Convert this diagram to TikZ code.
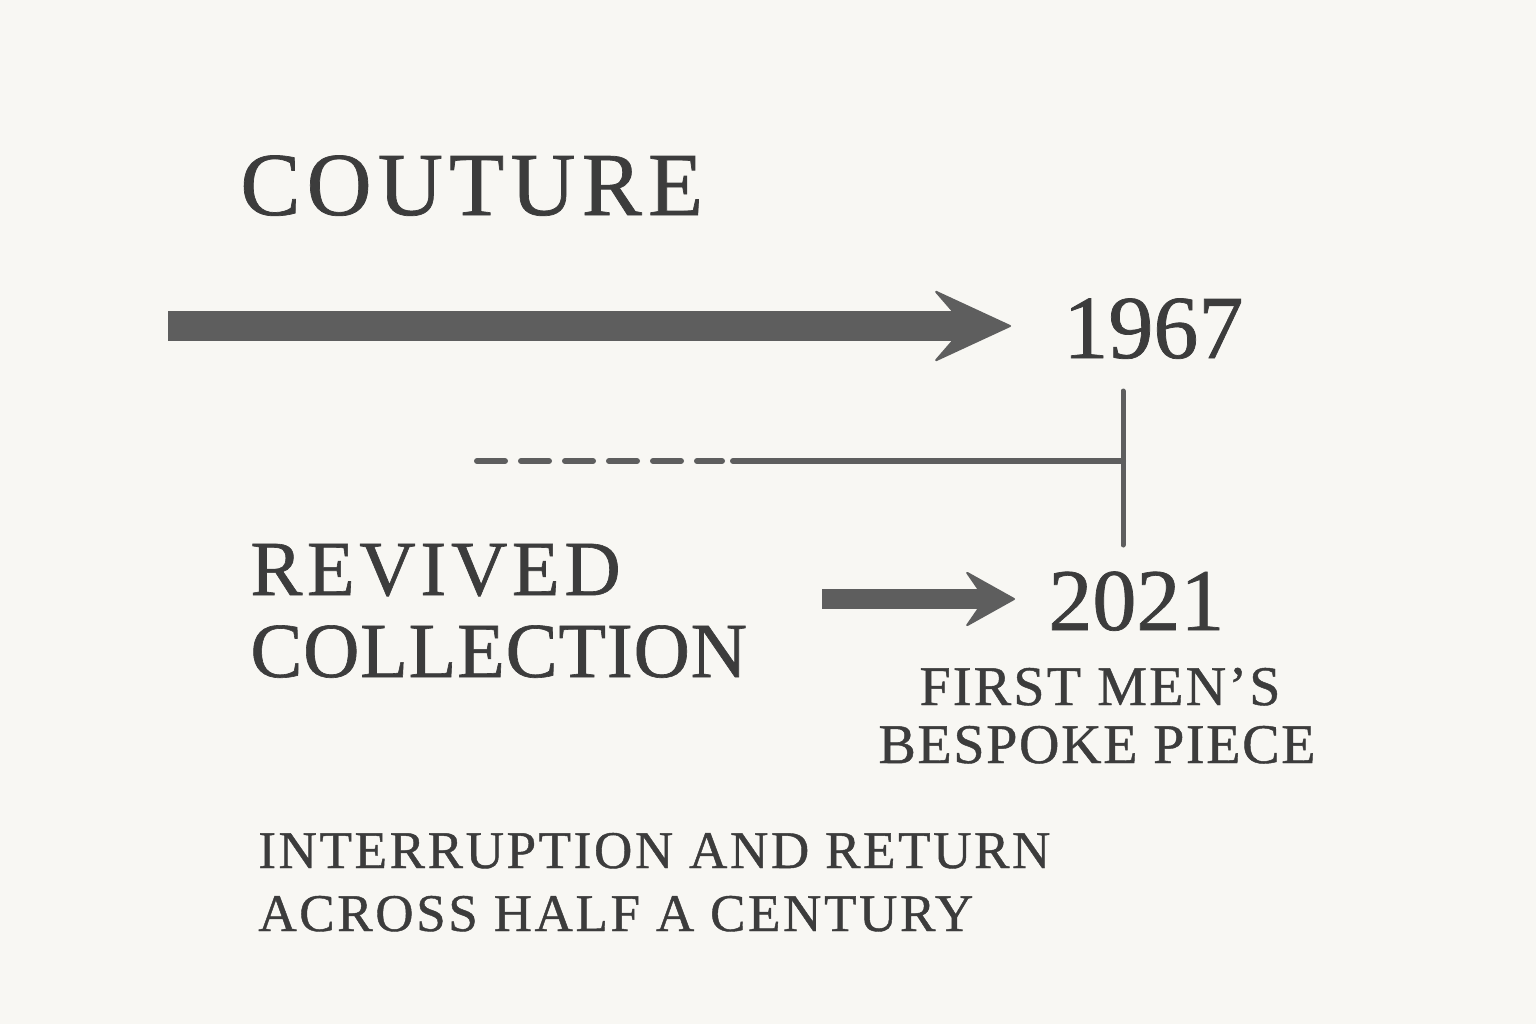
\documentclass[tikz,border=0pt]{standalone}
\usepackage{fontspec}
\setmainfont{Liberation Serif}[FakeBold=0.8]
\usetikzlibrary{arrows.meta}
\definecolor{paper}{HTML}{F8F7F3}
\definecolor{ink}{HTML}{3C3C3C}
\definecolor{lead}{HTML}{5E5E5E}
\newcommand{\ls}[1]{\addfontfeature{LetterSpace=#1}}
\tikzset{
  lbl/.style={inner sep=0pt, text=ink},
  bigarrow/.style={draw=lead, line width=15pt, line cap=butt,
    -{Stealth[length=40pt, width=37pt, inset=16pt, line width=1pt, round]}},
  smallarrow/.style={draw=lead, line width=10pt, line cap=butt,
    -{Stealth[length=26pt, width=29pt, inset=10pt, line width=1pt, round]}},
  tline/.style={draw=lead, line width=3pt, line cap=round},
  vline/.style={draw=lead, line width=2.5pt, line cap=round},
  dashline/.style={tline, dash pattern=on 14pt off 8pt},
}
\begin{document}
\begin{tikzpicture}[x=0.5pt, y=-0.5pt]
\fill[paper] (0,0) rectangle (1536,1024);
\useasboundingbox (0,0) rectangle (1536,1024);

\node[lbl, anchor=base west, font=\fontsize{45pt}{50pt}\selectfont\ls{7}] (couture) at (240,215) {COUTURE};

\coordinate (a1s) at (168,326);
\coordinate (a1e) at (1011,326);
\draw[bigarrow] (a1s) -- (a1e);
\node[lbl, anchor=base west, font=\fontsize{45pt}{50pt}\selectfont] (y1967) at (1063,358) {1967};

\coordinate (v1) at (1123,391);
\coordinate (v2) at (1123,545);
\draw[vline] (v1) -- (v2);
\coordinate (d0) at (477,461);
\coordinate (d1) at (722,461);
\coordinate (d2) at (733,461);
\coordinate (tee) at (1123,461);
\draw[dashline] (d0) -- (d1);
\draw[tline] (d2) -- (tee);

\node[lbl, anchor=base west, font=\fontsize{39pt}{44pt}\selectfont\ls{6}] (revived) at (250,595) {REVIVED};
\node[lbl, anchor=base west, font=\fontsize{39pt}{44pt}\selectfont\ls{1}] (collection) at (250,677) {COLLECTION};

\coordinate (a2s) at (822,599);
\coordinate (a2e) at (1015,599);
\draw[smallarrow] (a2s) -- (a2e);
\node[lbl, anchor=base west, font=\fontsize{44pt}{50pt}\selectfont] (y2021) at (1048,630) {2021};

\node[lbl, anchor=base, font=\fontsize{28pt}{32pt}\selectfont\ls{4}] (first) at (1100,705) {FIRST MEN’S};
\node[lbl, anchor=base, font=\fontsize{28pt}{32pt}\selectfont\ls{3}] (bespoke) at (1097,763) {BESPOKE PIECE};

\node[lbl, anchor=base west, font=\fontsize{26.5pt}{30pt}\selectfont\ls{5}] (cap1) at (258,868) {INTERRUPTION AND RETURN};
\node[lbl, anchor=base west, font=\fontsize{26.5pt}{30pt}\selectfont\ls{5}] (cap2) at (258,931) {ACROSS HALF A CENTURY};
\end{tikzpicture}
\end{document}
